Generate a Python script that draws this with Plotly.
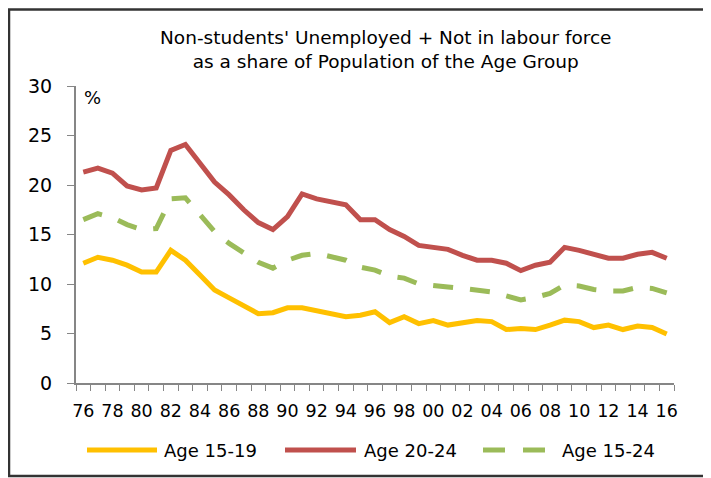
import plotly.graph_objects as go

years = ["76", "77", "78", "79", "80", "81", "82", "83", "84", "85", "86", "87", "88", "89",
         "90", "91", "92", "93", "94", "95", "96", "97", "98", "99", "00", "01", "02", "03",
         "04", "05", "06", "07", "08", "09", "10", "11", "12", "13", "14", "15", "16"]

age_15_19 = [12.1, 12.7, 12.4, 11.9, 11.2, 11.2, 13.4, 12.4, 10.9, 9.4, 8.6, 7.8, 7.0, 7.1,
             7.6, 7.6, 7.3, 7.0, 6.7, 6.85, 7.2, 6.1, 6.7, 6.0, 6.3, 5.85, 6.1, 6.3,
             6.2, 5.4, 5.5, 5.4, 5.85, 6.35, 6.2, 5.6, 5.85, 5.4, 5.75, 5.6, 4.95]

age_20_24 = [21.3, 21.7, 21.2, 19.9, 19.5, 19.7, 23.5, 24.1, 22.2, 20.3, 19.0, 17.5, 16.2, 15.5,
             16.8, 19.1, 18.6, 18.3, 18.0, 16.5, 16.5, 15.5, 14.8, 13.9, 13.7, 13.5, 12.9, 12.4,
             12.4, 12.1, 11.35, 11.9, 12.2, 13.7, 13.4, 13.0, 12.6, 12.6, 13.0, 13.2, 12.6]

age_15_24 = [16.5, 17.1, 16.7, 16.0, 15.5, 15.6, 18.6, 18.7, 17.0, 15.3, 14.1, 13.2, 12.2, 11.6,
             12.4, 12.9, 13.1, 12.75, 12.4, 11.7, 11.4, 10.8, 10.6, 10.0, 9.9, 9.7, 9.55, 9.4,
             9.2, 8.8, 8.4, 8.65, 9.05, 9.9, 9.8, 9.45, 9.3, 9.3, 9.65, 9.55, 9.1]

series = [
    ("Age 15-19", age_15_19, "#FFC000", "solid"),
    ("Age 20-24", age_20_24, "#C0504D", "solid"),
    ("Age 15-24", age_15_24, "#9BBB59", "20px,17px"),
]

FONT = "DejaVu Sans"

fig = go.Figure()
for name, vals, color, dash in series:
    fig.add_trace(go.Scatter(
        x=years, y=vals, name=name, mode="lines",
        line=dict(color=color, width=5, dash=dash),
    ))

tick_text = [y if i % 2 == 0 else "" for i, y in enumerate(years)]

# the page body adds an 8px margin, so the figure is 8px smaller than the window
fig.update_layout(
    width=703, height=470,
    margin=dict(l=68, r=37, t=78, b=95),
    paper_bgcolor="white", plot_bgcolor="white",
    showlegend=False,
    font=dict(family=FONT, size=18, color="black"),
    xaxis=dict(
        type="category", tickmode="array", tickvals=years, ticktext=tick_text,
        tickson="boundaries", ticks="outside", ticklen=6, tickcolor="#868686",
        showline=True, linecolor="#868686", linewidth=2, showgrid=False,
        tickfont=dict(size=17.5), tickangle=0, automargin=False, range=[-0.5, 40.5],
        ticklabelstandoff=11,
    ),
    yaxis=dict(
        range=[0, 30], dtick=5, ticks="outside", ticklen=7, tickcolor="#868686",
        showline=True, linecolor="#868686", linewidth=2, showgrid=False,
        zeroline=False, tickfont=dict(size=19), ticklabelstandoff=11, automargin=False,
    ),
)

# title
fig.add_annotation(
    xref="paper", yref="paper", x=0.517, y=(383 - 49.5) / 297, xanchor="center", yanchor="middle",
    text="Non-students' Unemployed + Not in labour force<br>as a share of Population of the Age Group",
    showarrow=False, font=dict(size=18.5), align="center",
)
# unit label
fig.add_annotation(xref="paper", yref="paper", x=16 / 598, y=(383 - 97) / 297, text="%",
                   showarrow=False, font=dict(size=18), xanchor="center", yanchor="middle")

# chart border
fig.add_shape(type="rect", xref="paper", yref="paper",
              x0=(9 - 76) / 598, x1=(709 - 76) / 598,
              y0=(383 - 476) / 297, y1=(383 - 9.5) / 297,
              line=dict(color="#333333", width=2.5))

# legend drawn manually
legend_y = (383 - 450) / 297
legend_items = [(87, 157, 162), (285, 356, 362), (483, 545, 560)]
for (x0, x1, tx), (name, vals, color, dash) in zip(legend_items, series):
    fig.add_shape(type="line", xref="paper", yref="paper",
                  x0=(x0 - 76) / 598, x1=(x1 - 76) / 598, y0=legend_y, y1=legend_y,
                  line=dict(color=color, width=5, dash="22px,18px" if dash != "solid" else dash))
    fig.add_annotation(xref="paper", yref="paper", x=(tx - 76) / 598, y=legend_y,
                       text=name, showarrow=False, xanchor="left", yanchor="middle",
                       font=dict(size=18))

fig.write_html("out.html")
